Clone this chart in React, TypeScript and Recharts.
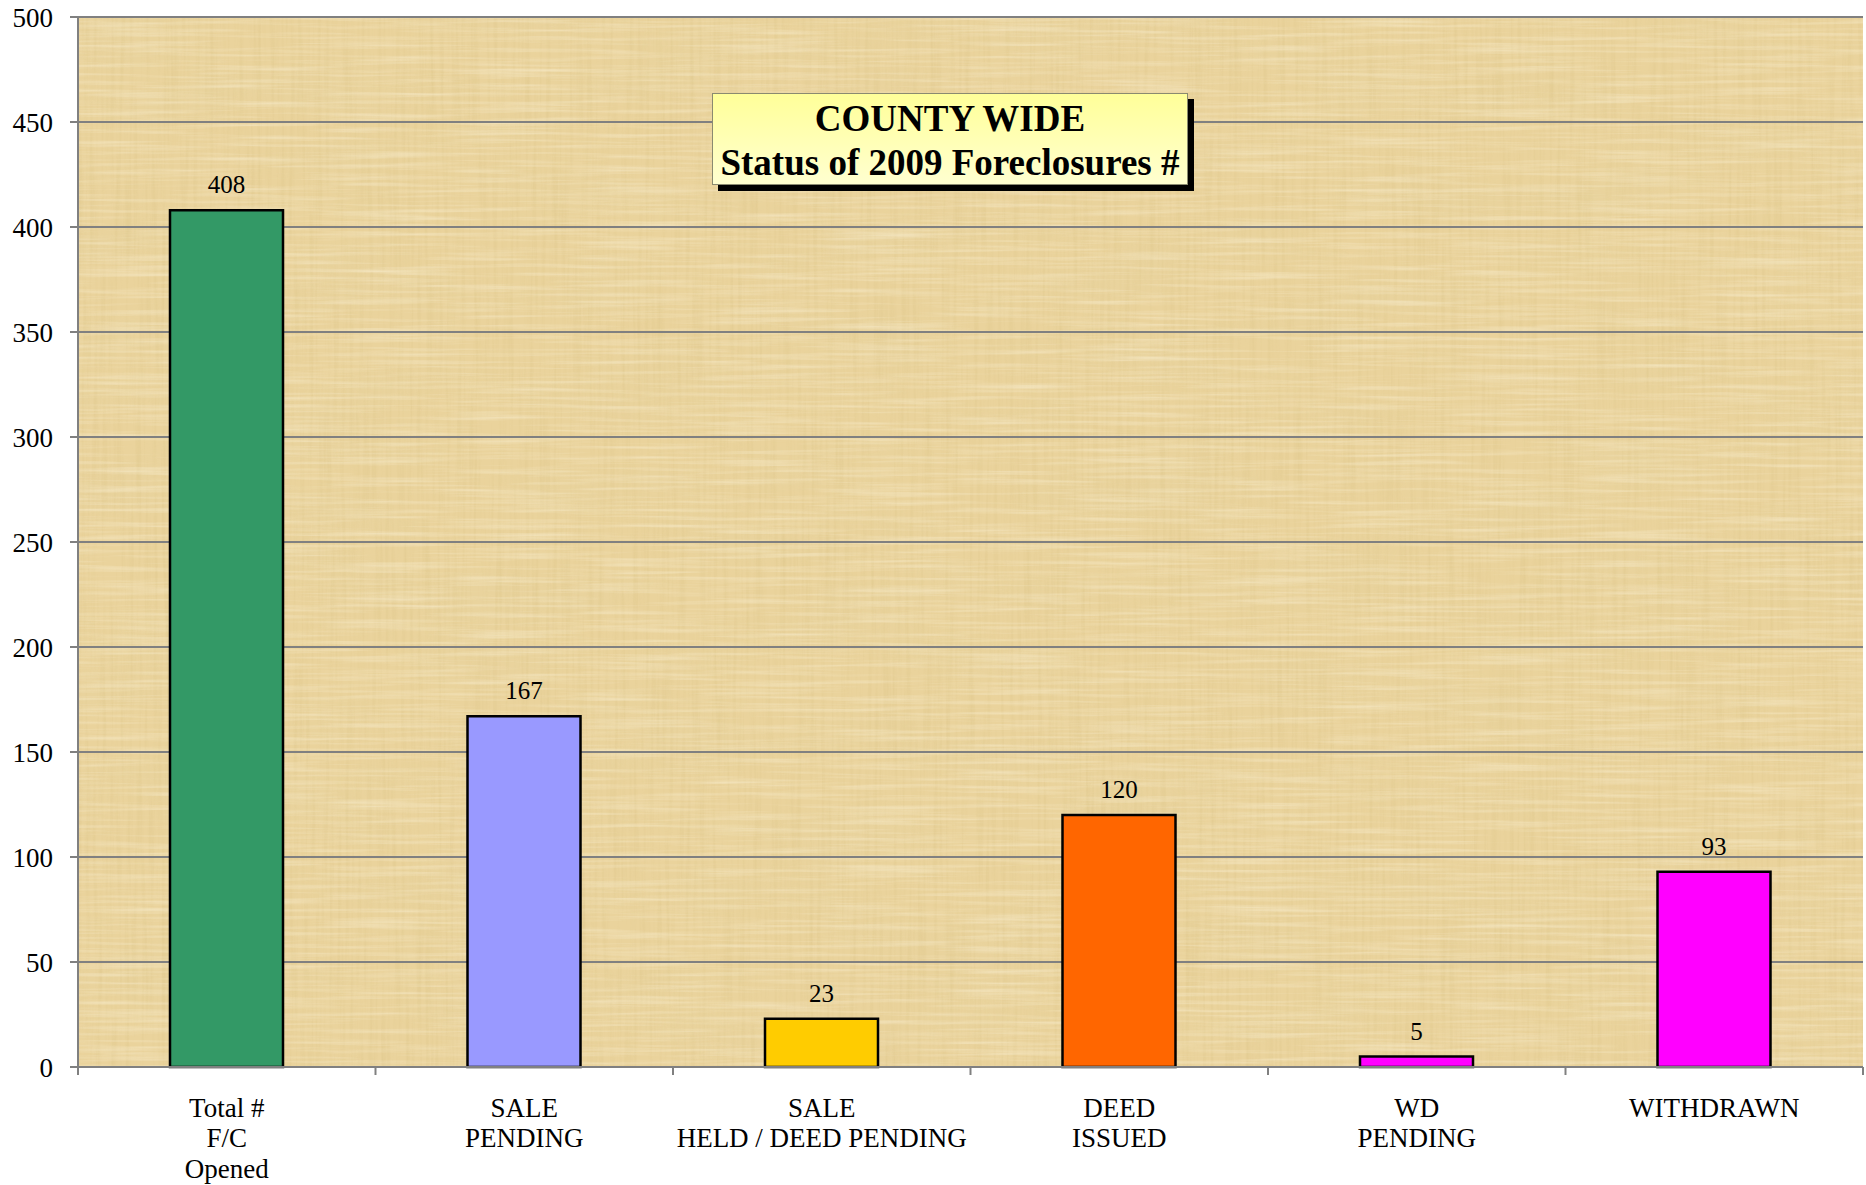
import { BarChart, Bar, XAxis, YAxis, CartesianGrid, Cell, LabelList } from "recharts"

const categories = [
 "Total #\nF/C\nOpened",
 "SALE\nPENDING",
 "SALE\nHELD / DEED PENDING",
 "DEED\nISSUED",
 "WD\nPENDING",
 "WITHDRAWN"
]
const counts = [408, 167, 23, 120, 5, 93]
const barColors = ["#339966", "#9999FF", "#FFCC00", "#FF6600", "#FF00FF", "#FF00FF"]
const yTicks = [0, 50, 100, 150, 200, 250, 300, 350, 400, 450, 500]
const titleLines = ["COUNTY WIDE", "Status of 2009 Foreclosures #"]

const W = 1866
const H = 1185
const LEFT = 78
const RIGHT = 3
const TOP = 17
const XAXIS_H = 118
const BAND = (W - LEFT - RIGHT) / categories.length
const FONT = "'Liberation Serif', 'Times New Roman', serif"

const data = categories.map((c, i) => ({ name: c, value: counts[i] }))

function CategoryTick(props: any) {
 const { x, y, payload, index } = props
 const lines = String(payload.value).split("\n")
 return (
  <g>
   <line x1={x - BAND / 2} x2={x - BAND / 2} y1={y} y2={y + 8} stroke="#808080" strokeWidth={2} />
   {index === categories.length - 1 && (
    <line x1={x + BAND / 2} x2={x + BAND / 2} y1={y} y2={y + 8} stroke="#808080" strokeWidth={2} />
   )}
   <text x={x} y={y + 50} textAnchor="middle" fontFamily={FONT} fontSize={27} fill="#000">
    {lines.map((l, i) => (
     <tspan key={i} x={x} dy={i === 0 ? 0 : 30.4}>{l}</tspan>
    ))}
   </text>
  </g>
 )
}

function Papyrus() {
 const w = W - LEFT - RIGHT
 const h = H - TOP - XAXIS_H
 return (
  <svg width={w} height={h} style={{ position: "absolute", left: LEFT, top: TOP }}>
   <defs>
    <filter id="fibV" x="0" y="0" width="100%" height="100%">
     <feTurbulence type="fractalNoise" baseFrequency="0.25 0.008" numOctaves={3} seed={3} />
     <feColorMatrix values="0 0 0 0 0.72  0 0 0 0 0.56  0 0 0 0 0.25  1.8 0 0 0 -0.78" />
    </filter>
    <filter id="fibH" x="0" y="0" width="100%" height="100%">
     <feTurbulence type="fractalNoise" baseFrequency="0.008 0.25" numOctaves={3} seed={7} />
     <feColorMatrix values="0 0 0 0 0.98  0 0 0 0 0.92  0 0 0 0 0.74  1.8 0 0 0 -0.78" />
    </filter>
    <filter id="blot" x="0" y="0" width="100%" height="100%">
     <feTurbulence type="fractalNoise" baseFrequency="0.006 0.02" numOctaves={2} seed={11} />
     <feColorMatrix values="0 0 0 0 0.8  0 0 0 0 0.66  0 0 0 0 0.35  1.6 0 0 0 -0.66" />
    </filter>
   </defs>
   <rect width={w} height={h} fill="#EAD39C" />
   <rect width={w} height={h} filter="url(#blot)" opacity={0.55} />
   <rect width={w} height={h} filter="url(#fibV)" opacity={0.5} />
   <rect width={w} height={h} filter="url(#fibH)" opacity={0.5} />
  </svg>
 )
}

export default function App() {
 return (
  <div style={{ position: "absolute", left: 0, top: 0, width: W, height: H, background: "#fff" }}>
   <Papyrus />
   <div style={{ position: "absolute", left: 0, top: 0 }}>
    <BarChart
     width={W}
     height={H}
     data={data}
     margin={{ top: TOP, right: RIGHT, left: 0, bottom: 0 }}
     barSize={113}
    >
     <CartesianGrid horizontal vertical={false} stroke="#808080" strokeWidth={2} strokeOpacity={1} />
     <XAxis
      dataKey="name"
      interval={0}
      height={XAXIS_H}
      tickSize={0}
      tickMargin={0}
      tickLine={false}
      axisLine={{ stroke: "#808080", strokeWidth: 2 }}
      tick={<CategoryTick />}
     />
     <YAxis
      width={LEFT}
      domain={[0, 500]}
      ticks={yTicks}
      interval={0}
      tickSize={8}
      tickMargin={17}
      axisLine={{ stroke: "#808080", strokeWidth: 2 }}
      tickLine={{ stroke: "#808080", strokeWidth: 2 }}
      tick={{ fill: "#000", fontSize: 27, fontFamily: FONT }}
     />
     <Bar dataKey="value" stroke="#000" strokeWidth={2.5} isAnimationActive={false}>
      {data.map((d, i) => (
       <Cell key={d.name} fill={barColors[i]} />
      ))}
      <LabelList dataKey="value" position="top" offset={17} fill="#000" fontSize={25} fontFamily={FONT} />
     </Bar>
    </BarChart>
   </div>
   <div
    style={{
     position: "absolute",
     left: 712,
     top: 93,
     width: 476,
     height: 92,
     boxSizing: "border-box",
     border: "1.5px solid #8a8a70",
     background: "linear-gradient(#FFFF99, #FFFFD0)",
     boxShadow: "6px 6px 0 #000",
     fontFamily: FONT,
     fontWeight: "bold",
     fontSize: 37,
     lineHeight: "44px",
     textAlign: "center",
     paddingTop: 3,
     whiteSpace: "nowrap"
    }}
   >
    {titleLines.map(t => (
     <div key={t}>{t}</div>
    ))}
   </div>
  </div>
 )
}
